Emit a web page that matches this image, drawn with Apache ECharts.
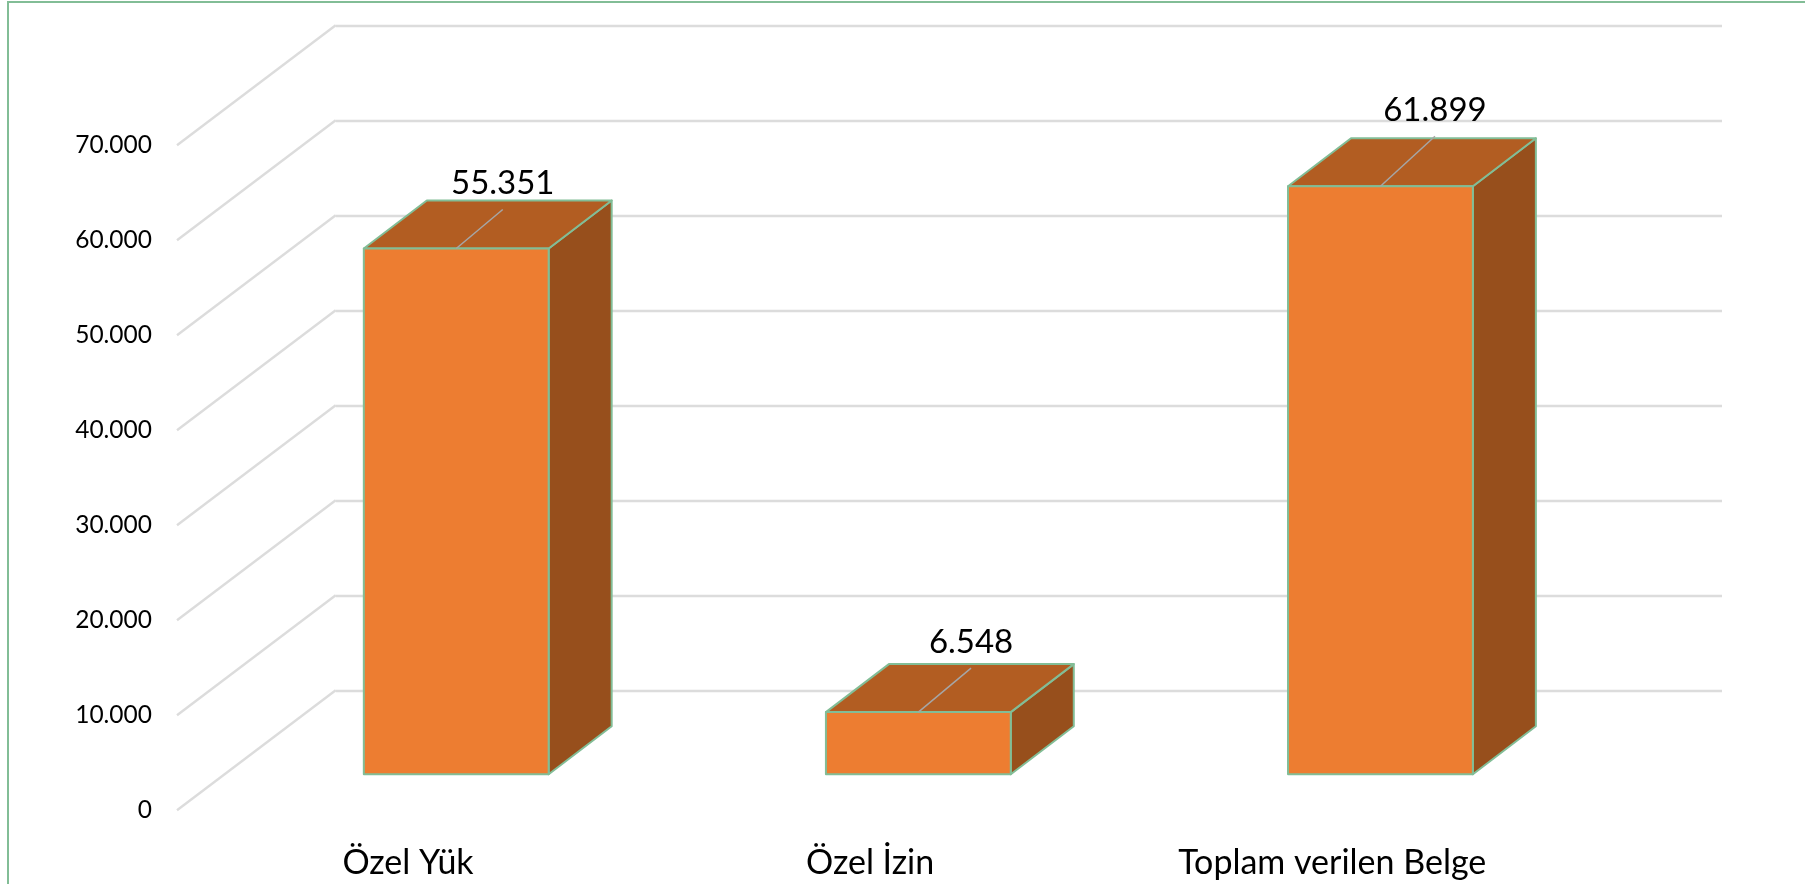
<!DOCTYPE html>
<html>
<head>
<meta charset="utf-8">
<style>
html,body{margin:0;padding:0;background:#fff;}
#main{width:1805px;height:884px;}
</style>
<script src="https://cdn.jsdelivr.net/npm/echarts@6/dist/echarts.min.js"></script>
</head>
<body>
<div id="main"></div>
<script>
// veriler
var categories = ['Özel Yük', 'Özel İzin', 'Toplam verilen Belge'];
var values = [55351, 6548, 61899];
var tickValues = [0, 10000, 20000, 30000, 40000, 50000, 60000, 70000];

// perspektif: zemin derinligi ve kutu derinligi (px)
var floorDx = 158.7, floorDy = 120;
var boxDx = 63, boxDy = 48;
// etiket cizgisi ucu, kutu on yuzu ortasina gore
var leaders = [[46.5, -39], [52.7, -44], [54.5, -50]];

var myChart = echarts.init(document.getElementById('main'));

function fmt(v){
    return String(v).replace(/\B(?=(\d{3})+$)/g, '.');
}

function renderBox(params, api){
    var i = api.value(0);
    var top = api.coord([i, api.value(1)]);
    var base = api.coord([i, 0]);
    var w = api.size([1, 0])[0] * 0.4;
    var l = top[0] - w / 2, r = top[0] + w / 2;
    var edge = {stroke: '#82BD96', lineWidth: 2, lineJoin: 'round'};
    var end = leaders[i];
    return {
        type: 'group',
        children: [
            {type: 'polygon', shape: {points: [[r, top[1]], [r + boxDx, top[1] - boxDy], [r + boxDx, base[1] - boxDy], [r, base[1]]]},
                style: Object.assign({fill: '#974F1C'}, edge)},
            {type: 'polygon', shape: {points: [[l, top[1]], [l + boxDx, top[1] - boxDy], [r + boxDx, top[1] - boxDy], [r, top[1]]]},
                style: Object.assign({fill: '#B25D22'}, edge)},
            {type: 'rect', shape: {x: l, y: top[1], width: w, height: base[1] - top[1]},
                style: Object.assign({fill: '#ED7D31'}, edge)},
            {type: 'line', shape: {x1: top[0], y1: top[1], x2: top[0] + end[0], y2: top[1] + end[1]},
                style: {stroke: '#A6A6A6', lineWidth: 1.5}},
            {type: 'text', x: top[0] + end[0], y: top[1] + end[1] - 26,
                style: {text: fmt(api.value(1)), fill: '#000', font: '33px Lato', align: 'center', verticalAlign: 'middle'}}
        ]
    };
}

// duvardan one giden capraz cizgiler, eksenin sol kenarindan baslar
function renderDiagonal(params, api){
    var p = api.coord([0, api.value(0)]);
    var x = p[0] - api.size([1, 0])[0] / 2;
    return {type: 'line', shape: {x1: x, y1: p[1], x2: x + floorDx, y2: p[1] - floorDy},
        style: {stroke: '#DCDCDC', lineWidth: 2.4}};
}

var yBase = {type: 'value', min: 0, max: 70000, interval: 10000};

var option = {
    animation: false,
    graphic: [{type: 'polyline', shape: {points: [[8, 884], [8, 2], [1805, 2]]}, style: {fill: 'none', stroke: '#82BD96', lineWidth: 2}, silent: true}],
    grid: [
        // arka duvar
        {left: 335.7, top: 25.3, width: 1386.3, height: 665},
        // on duzlem (eksen yazilari)
        {left: 177, top: 145.3, width: 1386.3, height: 665},
        // kutularin duzlemi
        {left: 225.2, top: 109.3, width: 1386.3, height: 665}
    ],
    xAxis: [
        {gridIndex: 0, type: 'category', data: categories, show: false},
        {gridIndex: 1, type: 'category', data: categories, axisLine: {show: false}, axisTick: {show: false},
            axisLabel: {interval: 0, margin: 33, fontFamily: 'Lato', fontSize: 34, color: '#000', lineHeight: 40}},
        {gridIndex: 2, type: 'category', data: categories, show: false}
    ],
    yAxis: [
        Object.assign({gridIndex: 0, axisLine: {show: false}, axisTick: {show: false}, axisLabel: {show: false},
            splitLine: {show: true, lineStyle: {color: '#DCDCDC', width: 2.4}}}, yBase),
        Object.assign({gridIndex: 1, axisLine: {show: false}, axisTick: {show: false}, splitLine: {show: false},
            axisLabel: {margin: 25, padding: [9, 0, 0, 0], fontFamily: 'Lato', fontSize: 24.5, color: '#000', formatter: fmt}}, yBase),
        Object.assign({gridIndex: 2, show: false, splitLine: {show: false}}, yBase)
    ],
    series: [
        {type: 'custom', xAxisIndex: 1, yAxisIndex: 1, renderItem: renderDiagonal, encode: {y: 0},
            data: tickValues.map(function(v){ return [v]; }), silent: true, z: 1},
        {type: 'custom', xAxisIndex: 2, yAxisIndex: 2, renderItem: renderBox, encode: {x: 0, y: 1},
            data: values.map(function(v, i){ return [i, v]; }), z: 3}
    ]
};
myChart.setOption(option);
</script>
</body>
</html>
